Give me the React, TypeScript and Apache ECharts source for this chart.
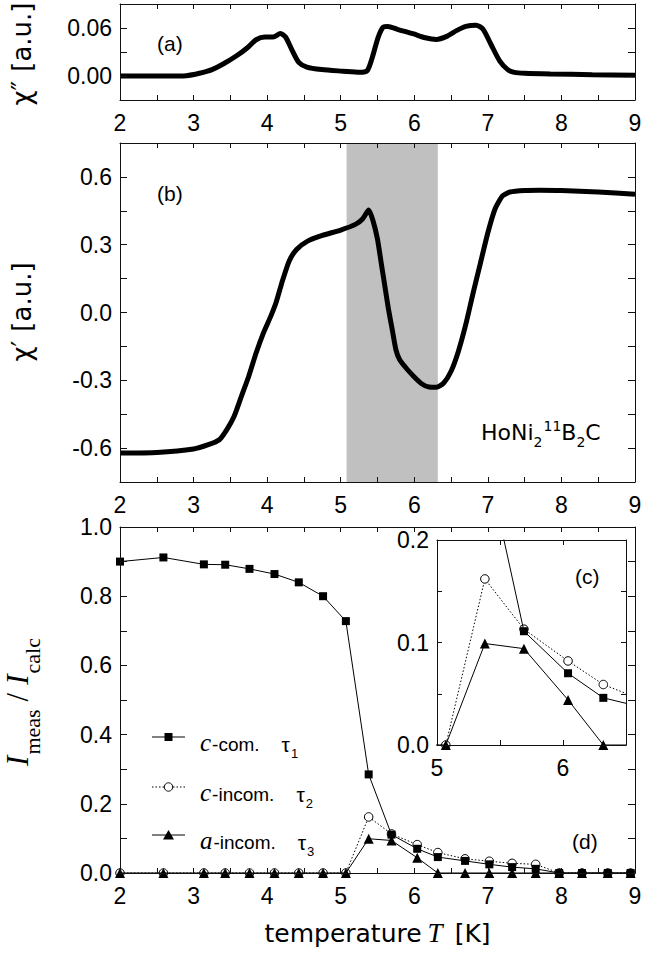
import React, { useEffect, useRef } from "react";
import * as echarts from "echarts";

// ---------- data ----------
// panel (a): chi'' (imaginary part of ac susceptibility)
const TEMP_A = [2.0, 2.67, 2.9, 3.08, 3.25, 3.42, 3.59, 3.74, 3.85, 3.97, 4.08, 4.18, 4.25, 4.34, 4.43, 4.54, 4.74, 5.03, 5.26, 5.36, 5.43, 5.51, 5.58, 5.64, 5.78, 5.98, 6.15, 6.3, 6.44, 6.58, 6.7, 6.84, 6.93, 7.04, 7.16, 7.27, 7.36, 7.5, 7.85, 8.42, 9.0];
const CHI_IMAG = [0.0, 0.0, 0.0004, 0.0034, 0.008, 0.016, 0.0256, 0.036, 0.0453, 0.0487, 0.0487, 0.053, 0.0487, 0.032, 0.017, 0.011, 0.008, 0.006, 0.0046, 0.0067, 0.0235, 0.0487, 0.0613, 0.062, 0.058, 0.0529, 0.0478, 0.0457, 0.0495, 0.057, 0.062, 0.0634, 0.059, 0.04, 0.019, 0.008, 0.0046, 0.0034, 0.0025, 0.0017, 0.001];

// panel (b): chi' (real part)
const TEMP_B = [2.0, 2.5, 3.0, 3.2, 3.35, 3.45, 3.55, 3.65, 3.75, 3.85, 3.95, 4.05, 4.12, 4.2, 4.3, 4.4, 4.55, 4.75, 5.0, 5.2, 5.3, 5.38, 5.44, 5.5, 5.55, 5.6, 5.65, 5.7, 5.75, 5.8, 5.9, 6.0, 6.1, 6.2, 6.3, 6.4, 6.5, 6.6, 6.7, 6.8, 6.9, 7.0, 7.1, 7.2, 7.3, 7.5, 7.7, 8.0, 8.5, 9.0];
const CHI_REAL = [-0.622, -0.619, -0.604, -0.585, -0.563, -0.519, -0.46, -0.371, -0.282, -0.179, -0.09, -0.016, 0.043, 0.132, 0.228, 0.279, 0.316, 0.341, 0.365, 0.39, 0.415, 0.453, 0.405, 0.324, 0.22, 0.117, 0.013, -0.075, -0.164, -0.208, -0.25, -0.285, -0.315, -0.33, -0.331, -0.312, -0.26, -0.171, -0.053, 0.087, 0.22, 0.353, 0.46, 0.516, 0.533, 0.54, 0.541, 0.54, 0.533, 0.523];
const BAND = [5.08, 6.32];

// panel (d) / inset (c): I_meas / I_calc
const T_N = [2.0, 2.59, 3.14, 3.43, 3.76, 4.1, 4.43, 4.76, 5.07, 5.38, 5.69, 6.04, 6.32, 6.69, 7.02, 7.33, 7.65, 7.97, 8.28, 8.63, 8.94];
const C_COM = [0.9, 0.912, 0.892, 0.891, 0.879, 0.864, 0.84, 0.8, 0.728, 0.285, 0.111, 0.07, 0.046, 0.035, 0.025, 0.017, 0.012, 0, 0, 0, 0];
const C_INCOM = [0, 0, 0, 0, 0, 0, 0, 0, 0, 0.162, 0.113, 0.082, 0.059, 0.041, 0.034, 0.028, 0.025, 0, 0, 0, 0];
const A_INCOM = [0, 0, 0, 0, 0, 0, 0, 0, 0, 0.099, 0.094, 0.044, 0, 0, 0, 0, 0, 0, 0, 0, 0];

const LEGEND_ROWS = [
  { kind: "rect", letter: "c", name: "-com.", sub: "1" },
  { kind: "circle", letter: "c", name: "-incom.", sub: "2" },
  { kind: "triangle", letter: "a", name: "-incom.", sub: "3" },
];

// ---------- styling ----------
const SANS = '"Liberation Sans", Arial, Helvetica, sans-serif';
const DEJAVU = '"DejaVu Sans", sans-serif';
const SERIF = '"Liberation Serif", "Times New Roman", serif';
const INK = "#000";
const AXIS = "#111";
const TICK_FONT = 23;

const zip = (xs: number[], ys: number[]) => xs.map((x, i) => [x, ys[i]]);
const near = (v: number, step: number) => Math.abs(v / step - Math.round(v / step)) < 1e-6;
const fixed = (v: number, d: number) => (Math.abs(v) < 1e-9 ? 0 : v).toFixed(d);

let measureCtx: CanvasRenderingContext2D | null = null;
function textWidth(t: string, size: number, family: string, italic: boolean) {
  if (!measureCtx) measureCtx = document.createElement("canvas").getContext("2d");
  if (!measureCtx) return t.length * size * 0.55;
  measureCtx.font = `${italic ? "italic" : "normal"} ${size}px ${family}`;
  return measureCtx.measureText(t).width;
}

type Piece = { t: string; size: number; family: string; italic?: boolean; dy?: number; gap?: number };
function textRun(pieces: Piece[], x: number, y: number, anchor: "start" | "center", rotation = 0) {
  const widths = pieces.map((p) => textWidth(p.t, p.size, p.family, !!p.italic));
  const total = pieces.reduce((s, p, i) => s + (p.gap || 0) + widths[i], 0);
  let cx = anchor === "center" ? -total / 2 : 0;
  const children = pieces.map((p, i) => {
    cx += p.gap || 0;
    const el = {
      type: "text",
      x: cx,
      y: p.dy || 0,
      z: 10,
      style: {
        text: p.t,
        fontSize: p.size,
        fontFamily: p.family,
        fontStyle: p.italic ? "italic" : "normal",
        fill: INK,
        align: "left",
        verticalAlign: "middle",
      },
    };
    cx += widths[i];
    return el;
  });
  return { type: "group", x, y, rotation, children };
}

const GRIDS = [
  { left: 120, width: 515, top: 4, height: 96 },
  { left: 120, width: 515, top: 143, height: 339 },
  { left: 120, width: 515, top: 527, height: 346 },
  { left: 437, width: 189, top: 540, height: 205 },
];

function axisBase(gi: number, min: number, max: number, interval: number, tickLen: number) {
  return {
    type: "value",
    gridIndex: gi,
    min,
    max,
    interval,
    z: 6,
    splitLine: { show: false },
    axisLine: { show: true, onZero: false, lineStyle: { color: AXIS, width: 1 } },
    axisTick: { show: true, inside: true, length: tickLen, lineStyle: { color: AXIS, width: 1 } },
  };
}

function xAxes(gi: number, min: number, max: number, interval: number) {
  const base = axisBase(gi, min, max, interval, 5);
  return [
    {
      ...base,
      position: "bottom",
      axisLabel: {
        show: true,
        margin: 11,
        fontFamily: SANS,
        fontSize: TICK_FONT,
        color: INK,
        showMinLabel: true,
        showMaxLabel: true,
        formatter: (v: number) => (near(v, 1) ? String(Math.round(v)) : ""),
      },
    },
    { ...base, position: "top", axisLabel: { show: false } },
  ];
}

function yAxes(gi: number, min: number, max: number, interval: number, tickLen: number, fmt: (v: number) => string) {
  const base = axisBase(gi, min, max, interval, tickLen);
  return [
    {
      ...base,
      position: "left",
      axisLabel: { show: true, margin: 8, fontFamily: SANS, fontSize: TICK_FONT, color: INK, showMinLabel: true, showMaxLabel: true, formatter: fmt },
    },
    { ...base, position: "right", axisLabel: { show: false } },
  ];
}

function neutronSeries(xi: number, yi: number, values: number[], kind: string, clip: boolean, z: number) {
  const symbol = kind === "rect" ? "rect" : kind === "circle" ? "circle" : "triangle";
  const size = kind === "rect" ? 8 : kind === "circle" ? 8.5 : 10;
  return {
    type: "line",
    xAxisIndex: xi,
    yAxisIndex: yi,
    data: zip(T_N, values),
    symbol,
    symbolSize: size,
    showSymbol: true,
    showAllSymbol: true,
    clip,
    z,
    silent: true,
    itemStyle: {
      color: kind === "circle" ? "#fff" : INK,
      borderColor: INK,
      borderWidth: kind === "circle" ? 1 : 0,
    },
    lineStyle: { color: INK, width: 1, type: kind === "circle" ? [1.5, 2] : "solid" },
    emphasis: { disabled: true },
  };
}

function legendGraphics() {
  const els: any[] = [];
  const rowY = [737, 787, 835];
  LEGEND_ROWS.forEach((row, i) => {
    const y = rowY[i];
    els.push({
      type: "line",
      shape: { x1: 152, y1: y, x2: 185, y2: y },
      style: { stroke: INK, lineWidth: 1, lineDash: row.kind === "circle" ? [1.5, 2] : null },
    });
    if (row.kind === "rect") {
      els.push({ type: "rect", shape: { x: 164.5, y: y - 4, width: 8, height: 8 }, style: { fill: INK } });
    } else if (row.kind === "circle") {
      els.push({ type: "circle", shape: { cx: 168.5, cy: y, r: 4.2 }, style: { fill: "#fff", stroke: INK, lineWidth: 1 } });
    } else {
      els.push({
        type: "polygon",
        shape: { points: [[168.5, y - 5], [174, y + 4.5], [163, y + 4.5]] },
        style: { fill: INK },
      });
    }
    els.push(
      textRun(
        [
          { t: row.letter, size: 25, family: SERIF, italic: true, dy: -2 },
          { t: row.name, size: 19, family: SANS, gap: 1 },
          { t: "τ", size: 21, family: SANS, gap: 22 },
          { t: row.sub, size: 13, family: SANS, dy: 9, gap: 1 },
        ],
        200,
        y + 7,
        "start"
      )
    );
  });
  return els;
}

function buildOption() {
  const xAxis = [
    ...xAxes(0, 2, 9, 0.5),
    ...xAxes(1, 2, 9, 0.5),
    ...xAxes(2, 2, 9, 0.5),
    ...xAxes(3, 5, 6.5, 0.5),
  ];
  const yAxis = [
    ...yAxes(0, -0.03, 0.09, 0.03, 7, (v) => (near(v, 0.06) && v > -0.001 && v < 0.07 ? fixed(v, 2) : "")),
    ...yAxes(1, -0.75, 0.75, 0.15, 7, (v) => (near(v, 0.3) ? fixed(v, 1) : "")),
    ...yAxes(2, 0, 1, 0.1, 7, (v) => (near(v, 0.2) ? fixed(v, 1) : "")),
    ...yAxes(3, 0, 0.2, 0.05, 5, (v) => (near(v, 0.1) ? fixed(v, 1) : "")),
  ];

  const series: any[] = [
    {
      type: "line",
      xAxisIndex: 0,
      yAxisIndex: 0,
      data: zip(TEMP_A, CHI_IMAG),
      symbol: "none",
      smooth: 0.25,
      lineStyle: { color: INK, width: 5 },
      z: 3,
      silent: true,
    },
    {
      type: "line",
      xAxisIndex: 2,
      yAxisIndex: 2,
      data: zip(TEMP_B, CHI_REAL),
      symbol: "none",
      lineStyle: { opacity: 0, width: 0 },
      z: 1,
      silent: true,
      markArea: {
        silent: true,
        itemStyle: { color: "#c0c0c0" },
        data: [[{ xAxis: BAND[0] }, { xAxis: BAND[1] }]],
      },
    },
    {
      type: "line",
      xAxisIndex: 2,
      yAxisIndex: 2,
      data: zip(TEMP_B, CHI_REAL),
      symbol: "none",
      smooth: 0.2,
      lineStyle: { color: INK, width: 5 },
      z: 3,
      silent: true,
    },
    neutronSeries(4, 4, C_INCOM, "circle", false, 3),
    neutronSeries(4, 4, C_COM, "rect", false, 4),
    neutronSeries(4, 4, A_INCOM, "triangle", false, 5),
    neutronSeries(6, 6, C_INCOM, "circle", true, 3),
    neutronSeries(6, 6, C_COM, "rect", true, 4),
    neutronSeries(6, 6, A_INCOM, "triangle", true, 5),
  ];

  const graphic: any[] = [
    textRun(
      [
        { t: "χ″", size: 26, family: DEJAVU },
        { t: "[a.u.]", size: 26, family: DEJAVU, gap: 9 },
      ],
      22,
      54,
      "center",
      Math.PI / 2
    ),
    textRun(
      [
        { t: "χ′", size: 26, family: DEJAVU },
        { t: "[a.u.]", size: 26, family: DEJAVU, gap: 9 },
      ],
      22,
      312,
      "center",
      Math.PI / 2
    ),
    textRun(
      [
        { t: "I", size: 31, family: SERIF, italic: true },
        { t: "meas", size: 22, family: SERIF, dy: 15, gap: 1 },
        { t: "/", size: 31, family: SERIF, gap: 8 },
        { t: "I", size: 31, family: SERIF, italic: true, gap: 8 },
        { t: "calc", size: 22, family: SERIF, dy: 15, gap: 1 },
      ],
      17,
      702,
      "center",
      Math.PI / 2
    ),
    textRun(
      [
        { t: "temperature", size: 25, family: DEJAVU },
        { t: "T", size: 27, family: SERIF, italic: true, gap: 6 },
        { t: "[K]", size: 25, family: DEJAVU, gap: 12 },
      ],
      377.5,
      933,
      "center"
    ),
    textRun(
      [
        { t: "HoNi", size: 22, family: DEJAVU },
        { t: "2", size: 14, family: DEJAVU, dy: 10 },
        { t: "11", size: 14, family: DEJAVU, dy: -6, gap: 1 },
        { t: "B", size: 22, family: DEJAVU },
        { t: "2", size: 14, family: DEJAVU, dy: 10 },
        { t: "C", size: 22, family: DEJAVU },
      ],
      481,
      432,
      "start"
    ),
    textRun([{ t: "(a)", size: 21, family: SANS }], 157, 43, "start"),
    textRun([{ t: "(b)", size: 21, family: SANS }], 157, 193, "start"),
    textRun([{ t: "(c)", size: 21, family: SANS }], 575, 576, "start"),
    textRun([{ t: "(d)", size: 21, family: SANS }], 572, 841, "start"),
    ...legendGraphics(),
  ];

  return {
    animation: false,
    backgroundColor: "#fff",
    grid: GRIDS.map((g, i) => ({
      ...g,
      containLabel: false,
      show: i === 3,
      backgroundColor: "#fff",
      borderWidth: 0,
    })),
    xAxis,
    yAxis,
    series,
    graphic,
  };
}

export default function App() {
  const ref = useRef<HTMLDivElement>(null);
  useEffect(() => {
    document.body.style.margin = "0";
    if (!ref.current) return;
    const chart = echarts.init(ref.current, null, { renderer: "svg" });
    chart.setOption(buildOption() as any);
    return () => chart.dispose();
  }, []);
  return <div ref={ref} style={{ width: 664, height: 955 }} />;
}
